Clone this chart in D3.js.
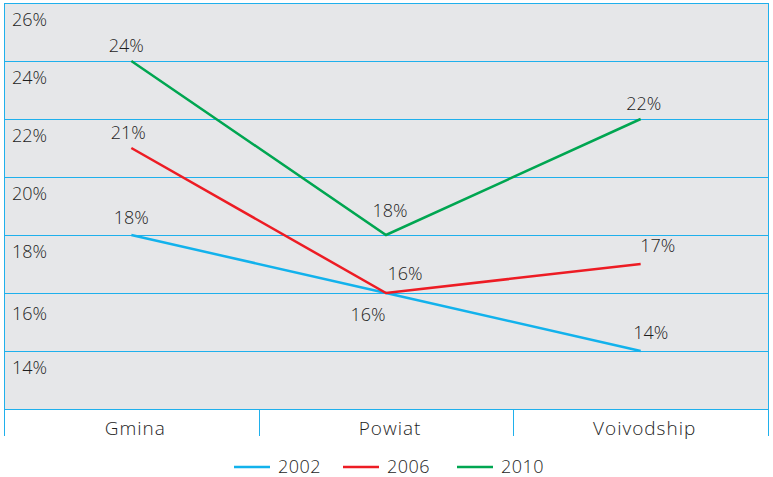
<!DOCTYPE html>
<html>
<head>
<meta charset="utf-8">
<script src="https://cdn.jsdelivr.net/npm/d3@7"></script>
<style>
  body { margin: 0; background: #fff; }
  text { font-family: "Open Sans", sans-serif; font-weight: 300; fill: #1e1e1e; }
</style>
</head>
<body>
<div id="chart"></div>
<script>
// data
const categories = ["Gmina", "Powiat", "Voivodship"];
const years = ["2002", "2006", "2010"];
const values2002 = [18, 16, 14];
const values2006 = [21, 16, 17];
const values2010 = [24, 18, 22];
const yTicks = [26, 24, 22, 20, 18, 16, 14];
const gridValues = [26, 24, 22, 20, 18, 16, 14, 12];

const series = [
    {year: "2002", values: values2002, color: "#12b2ec"},
    {year: "2006", values: values2006, color: "#ed1c24"},
    {year: "2010", values: values2010, color: "#00a651"}
];

// where each value label sits relative to its point
const labelOffsets = {
    "2002": [[0, -11], [-18, 28], [10, -12]],
    "2006": [[-3, -9], [19, -13], [17, -12]],
    "2010": [[-5, -9], [4, -18], [3, -9]]
};

const width = 773, height = 477;
const plot = {left: 4, right: 768, top: 3, bottom: 409};
const gridColor = "#1fb0ec";

const svg = d3.select("#chart").append("svg")
    .attr("width", width)
    .attr("height", height);

const x = d3.scaleBand()
    .domain(categories)
    .range([plot.left, plot.right]);

const y = d3.scaleLinear()
    .domain([12, 26])
    .range([plot.bottom, plot.top]);

// background
svg.append("rect")
    .attr("x", plot.left)
    .attr("y", y(26))
    .attr("width", plot.right - plot.left)
    .attr("height", y(12) - y(26))
    .attr("fill", "#e6e7e9");

// gridlines
svg.selectAll(".grid")
    .data(gridValues)
    .enter().append("line")
    .attr("class", "grid")
    .attr("x1", plot.left)
    .attr("x2", plot.right)
    .attr("y1", d => Math.round(y(d)) + 0.5)
    .attr("y2", d => Math.round(y(d)) + 0.5)
    .attr("stroke", gridColor)
    .attr("stroke-width", 1);

// tick labels sit just under their gridline
svg.selectAll(".ylab")
    .data(yTicks)
    .enter().append("text")
    .attr("class", "ylab")
    .attr("x", 12)
    .attr("y", d => y(d) + (d == 16 ? 27 : 23))
    .attr("font-size", 18)
    .text(d => d + "%");

// category separators
const edges = categories.map(c => x(c)).concat([plot.right]);
svg.selectAll(".sep")
    .data(edges)
    .enter().append("line")
    .attr("class", "sep")
    .attr("x1", d => Math.round(d) + 0.5)
    .attr("x2", d => Math.round(d) + 0.5)
    .attr("y1", (d, i) => (i == 0 || i == edges.length - 1) ? y(26) : y(12))
    .attr("y2", 436)
    .attr("stroke", gridColor)
    .attr("stroke-width", 1);

svg.selectAll(".xlab")
    .data(categories)
    .enter().append("text")
    .attr("class", "xlab")
    .attr("x", d => x(d) + x.bandwidth() / 2 + 4)
    .attr("y", 435)
    .attr("text-anchor", "middle")
    .attr("font-size", 19)
    .attr("letter-spacing", 1)
    .text(d => d);

// lines
const line = d3.line()
    .x((d, i) => x(categories[i]) + x.bandwidth() / 2)
    .y(d => y(d));

svg.selectAll(".series")
    .data(series)
    .enter().append("path")
    .attr("class", "series")
    .attr("d", d => line(d.values))
    .attr("fill", "none")
    .attr("stroke", d => d.color)
    .attr("stroke-width", 2.5);

// value labels
series.forEach(s => {
    svg.selectAll(".val" + s.year)
        .data(s.values)
        .enter().append("text")
        .attr("class", "val" + s.year)
        .attr("x", (d, i) => x(categories[i]) + x.bandwidth() / 2 + labelOffsets[s.year][i][0])
        .attr("y", (d, i) => y(d) + labelOffsets[s.year][i][1])
        .attr("text-anchor", "middle")
        .attr("font-size", 18)
        .text(d => d + "%");
});

// legend
const legendX = [234, 343, 457];
const legend = svg.selectAll(".legend")
    .data(series)
    .enter().append("g")
    .attr("class", "legend")
    .attr("transform", (d, i) => `translate(${legendX[i]},467)`);

legend.append("line")
    .attr("x1", 0).attr("x2", 36)
    .attr("stroke", d => d.color)
    .attr("stroke-width", 2.5);

legend.append("text")
    .attr("x", 44)
    .attr("y", 6)
    .attr("font-size", 18)
    .attr("letter-spacing", 0.5)
    .text(d => d.year);
</script>
</body>
</html>
